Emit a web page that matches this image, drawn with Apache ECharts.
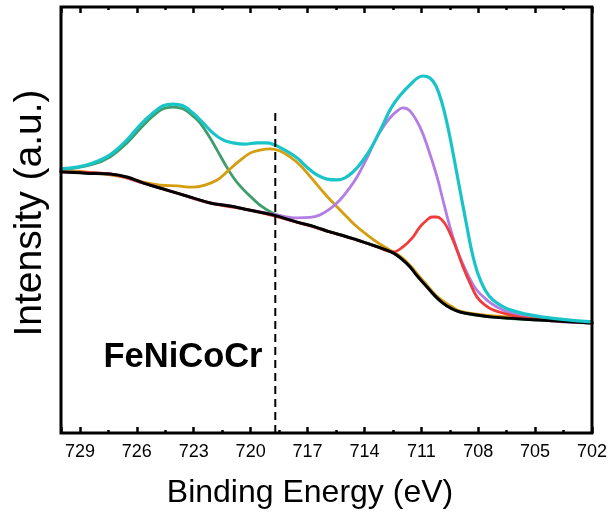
<!DOCTYPE html>
<html>
<head>
<meta charset="utf-8">
<script src="https://cdn.jsdelivr.net/npm/echarts@6/dist/echarts.min.js"></script>
<style>
html,body{margin:0;padding:0;background:#fff;}
#chart{width:610px;height:523px;}
</style>
</head>
<body>
<div id="chart"></div>
<script>
// ---- data (binding energy in eV, intensity in arbitrary units) ----
const bgE  = [730, 728.73, 727.42, 726.52, 725.68, 724.78, 723.88, 723.04, 722.14, 721.09, 720.03, 718.82, 717.56, 716.61, 715.82, 715.02, 714.39, 713.44, 712.49, 712.02, 711.60, 711.17, 710.70, 710.28, 709.86, 709.44, 708.96, 708.06, 707.22, 704.74, 702];
const bgV  = [61.3, 61.0, 60.8, 60.1, 58.7, 57.5, 56.3, 55.2, 54.0, 53.3, 52.3, 51.2, 49.5, 48.4, 47.2, 46.2, 45.3, 43.9, 42.3, 40.8, 39.0, 36.6, 34.3, 32.2, 30.5, 29.3, 28.4, 27.7, 27.2, 26.5, 25.8];

const envE = [730, 729.16, 728.31, 727.42, 726.52, 725.83, 725.15, 724.62, 724.09, 723.57, 723.04, 722.51, 721.98, 721.46, 720.93, 720.30, 719.66, 719.19, 718.82, 718.19, 717.56, 717.03, 716.50, 715.97, 715.45, 715.02, 714.60, 714.23, 713.71, 713.18, 712.49, 711.60, 710.91, 710.54, 710.23, 709.91, 709.59, 709.28, 708.96, 708.64, 708.33, 708.01, 707.64, 707.22, 706.32, 704.58, 702];
const envV = [62.0, 62.4, 63.4, 65.3, 68.8, 72.3, 75.1, 76.8, 77.2, 76.8, 75.1, 72.8, 70.4, 68.8, 68.1, 67.8, 68.1, 68.1, 67.8, 66.4, 64.6, 62.4, 60.6, 59.6, 59.4, 59.9, 61.3, 63.1, 66.4, 70.9, 77.0, 81.7, 83.8, 83.3, 81.5, 77.5, 71.6, 64.6, 57.0, 49.5, 42.5, 37.3, 33.6, 31.2, 28.9, 27.2, 26.1];

const p1E  = [730, 728.31, 727.42, 726.52, 725.83, 725.15, 724.62, 724.09, 723.57, 723.04, 722.67, 722.20, 721.77, 721.35, 720.93, 720.56, 720.19, 719.51, 718.82, 718.19, 717.56, 716.61, 715.82, 715.02, 714.39, 713.44, 712.49, 711.60, 710.70, 709.86, 708.96, 707.22, 704.74, 702];
const p1V  = [61.7, 63.1, 64.8, 68.1, 71.4, 74.4, 76.1, 76.5, 76.1, 74.4, 72.8, 69.7, 66.4, 63.1, 60.1, 58.0, 56.3, 53.5, 51.6, 50.5, 49.5, 48.4, 47.2, 46.2, 45.3, 43.9, 42.3, 39.0, 34.3, 30.5, 28.4, 27.2, 26.5, 25.8];

const p2E  = [730, 728.73, 727.42, 726.52, 725.68, 724.78, 723.88, 723.04, 722.41, 721.77, 721.25, 720.72, 720.03, 719.51, 718.98, 718.45, 717.92, 717.40, 716.71, 716.08, 715.45, 714.92, 714.39, 713.86, 713.34, 712.76, 712.12, 711.60, 711.17, 710.70, 710.28, 709.86, 709.44, 708.96, 708.06, 707.22, 704.74, 702];
const p2V  = [61.5, 61.3, 60.6, 59.9, 58.9, 58.2, 58.0, 57.7, 58.2, 59.4, 61.3, 63.4, 65.7, 66.4, 66.7, 66.2, 64.8, 62.9, 59.4, 56.1, 53.1, 50.7, 48.4, 46.5, 44.8, 43.2, 41.5, 39.4, 37.1, 34.7, 32.6, 31.0, 29.8, 28.6, 27.9, 27.5, 26.8, 25.8];

const p3E  = [730, 727.42, 725.68, 723.88, 722.14, 721.09, 720.03, 718.82, 717.56, 716.87, 716.34, 715.82, 715.29, 714.87, 714.39, 713.86, 713.34, 712.97, 712.65, 712.33, 711.97, 711.60, 711.07, 710.65, 710.17, 709.86, 709.49, 709.07, 708.59, 708.12, 707.54, 707.01, 706.32, 704.58, 702];
const p3V  = [61.3, 60.8, 58.7, 56.3, 54.0, 53.3, 52.3, 51.4, 50.5, 50.6, 51.2, 52.6, 54.7, 57.0, 60.1, 64.6, 69.5, 72.1, 74.0, 75.4, 76.3, 75.6, 71.8, 66.9, 60.1, 54.7, 48.4, 42.5, 37.6, 33.8, 31.2, 29.6, 28.2, 26.5, 25.8];

const p4E  = [730, 727.42, 725.68, 723.88, 722.14, 720.03, 717.56, 715.82, 714.39, 713.44, 712.49, 711.97, 711.44, 711.07, 710.70, 710.44, 710.17, 709.91, 709.65, 709.33, 709.07, 708.80, 708.43, 708.06, 707.64, 707.22, 706.48, 705.80, 704.21, 702];
const p4V  = [61.3, 60.8, 58.7, 56.3, 54.0, 52.3, 49.5, 47.2, 45.3, 43.9, 42.5, 43.7, 46.0, 48.4, 50.0, 50.7, 50.7, 50.0, 48.4, 45.3, 42.3, 39.0, 35.2, 31.9, 30.0, 28.9, 27.9, 27.2, 26.5, 25.8];

const dashE = [718.7, 718.7];
const dashV = [75.1, 0];

const tickLabels = ['702', '705', '708', '711', '714', '717', '720', '723', '726', '729'];

const sampleLabel = 'FeNiCoCr';
const xTitle = 'Binding Energy (eV)';
const yTitle = 'Intensity (a.u.)';

// ---- chart ----
const zip = (xs, ys) => xs.map((x, i) => [x, ys[i]]);
const FONT = '"Liberation Sans", Arial, sans-serif';

const chart = echarts.init(document.getElementById('chart'), null, {renderer: 'canvas'});

function lineSeries(name, xs, ys, color, width, z) {
  return {
    name, type: 'line', xAxisIndex: 0, yAxisIndex: 0,
    data: zip(xs, ys), smooth: 0.4,
    showSymbol: false, symbol: 'none', z,
    lineStyle: {color, width, join: 'round', cap: 'round'}
  };
}

const xBase = {
  type: 'value', min: 702, max: 730, interval: 3, inverse: true,
  splitLine: {show: false},
  axisLine: {show: false},
  axisTick: {show: true, inside: true, length: 6, lineStyle: {color: '#000', width: 2.5}},
  minorTick: {show: true, splitNumber: 2, length: 3, lineStyle: {color: '#000', width: 2.5}},
  minorSplitLine: {show: false}
};

chart.setOption({
  animation: false,
  backgroundColor: '#fff',
  grid: {left: 61, right: 18, top: 7, bottom: 90, show: true, borderColor: '#000', borderWidth: 3, backgroundColor: 'transparent', z: 10},
  xAxis: [
    Object.assign({}, xBase, {
      position: 'bottom',
      axisLabel: {show: true, color: '#000', fontSize: 18, fontFamily: FONT, margin: 10,
        formatter: v => tickLabels.includes(String(v)) ? String(v) : ''}
    }),
    Object.assign({}, xBase, {position: 'top', axisLabel: {show: false}})
  ],
  yAxis: {
    type: 'value', min: 0, max: 100,
    axisLine: {show: false}, axisTick: {show: false}, axisLabel: {show: false}, splitLine: {show: false}
  },
  series: [
    lineSeries('Peak 1', p1E, p1V, '#3d9e6c', 2.8, 2),
    lineSeries('Peak 2', p2E, p2V, '#d49e0e', 2.8, 3),
    lineSeries('Peak 3', p3E, p3V, '#b37de4', 2.8, 4),
    lineSeries('Peak 4', p4E, p4V, '#ef3c3c', 2.8, 5),
    lineSeries('Background', bgE, bgV, '#000000', 3, 6),
    lineSeries('Envelope', envE, envV, '#19c4c8', 3.2, 7),
    {
      name: 'Marker', type: 'line', data: zip(dashE, dashV), showSymbol: false, symbol: 'none', z: 8,
      lineStyle: {color: '#000', width: 2, type: [8, 5]}
    }
  ],
  graphic: [
    {type: 'text', x: 183, y: 357, z: 20,
      style: {text: sampleLabel, font: 'bold 34.5px ' + FONT, fill: '#000', align: 'center', verticalAlign: 'middle'}},
    {type: 'text', x: 310, y: 493, z: 20,
      style: {text: xTitle, font: '32px ' + FONT, fill: '#000', align: 'center', verticalAlign: 'middle'}},
    {type: 'text', x: 30, y: 213, rotation: Math.PI / 2, z: 20,
      style: {text: yTitle, font: '39px ' + FONT, fill: '#000', align: 'center', verticalAlign: 'middle'}}
  ]
});
</script>
</body>
</html>
